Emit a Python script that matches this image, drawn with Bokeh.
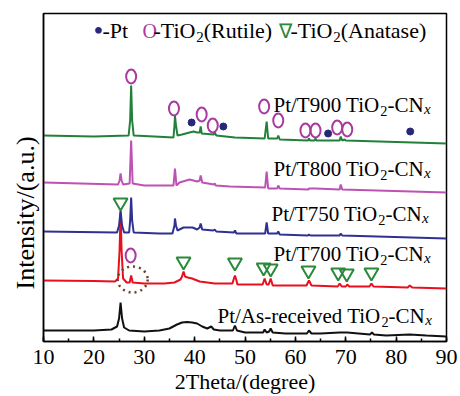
from bokeh.plotting import figure
from bokeh.models import Range1d, SingleIntervalTicker, FixedTicker, Label, Title
from bokeh.embed import file_html
from bokeh.resources import INLINE

# ---------------- data (2Theta in degree, intensity in a.u. incl. stacking offset) ----------------
asr_x = [10, 15, 20, 23.5, 24.6, 25.0, 25.3, 25.6, 26.0, 27, 30, 33, 35, 36.5, 37.5, 38.5, 39.5, 40.5,
         41.5, 42.5, 43.3, 43.8, 45, 47.6, 48.0, 48.4, 50, 53.6, 53.9, 54.3, 54.8, 55.1, 55.5, 58,
         62.3, 62.7, 63.2, 65, 68.8, 70.3, 74.8, 75.2, 75.6, 78, 82.7, 86, 90]
asr_y = [10, 10, 10, 11, 14, 22, 38, 22, 13, 10, 9, 10, 12, 16, 18, 18.5, 18, 17,
         14, 12, 14, 11, 10, 10, 15, 10, 8, 8, 11, 8, 9, 12, 8, 7,
         7, 10, 7, 7, 8, 8, 6, 8, 6, 5, 6, 5, 4]

t700_x = [10, 20, 24.2, 24.8, 25.1, 25.3, 25.5, 25.8, 26.5, 27.1, 27.4, 27.7, 30, 34, 36, 37.2, 37.5,
          37.8, 38.1, 38.6, 39.5, 41, 44, 47.5, 47.8, 48.0, 48.2, 48.5, 53.5, 53.9, 54.3, 54.7, 55.1,
          55.5, 62.2, 62.7, 63.2, 68.4, 68.8, 69.2, 70.0, 70.3, 70.7, 74.7, 75.1, 75.5, 82.3, 82.7,
          83.2, 90]
t700_y = [60, 59.5, 59, 62, 90, 128, 90, 62, 58, 58, 65, 58, 57, 57, 58, 61, 64,
          69, 64, 63, 62, 59, 57, 57, 62, 65, 62, 56, 56, 62, 56, 56, 62,
          55, 55, 60, 55, 54, 57, 54, 54, 56, 54, 54, 57, 54, 53, 55,
          53, 52]

t750_x = [10, 24.6, 25.0, 25.3, 25.6, 26.0, 27.0, 27.2, 27.4, 27.6, 27.9, 33, 35.6, 36.0, 36.1, 36.3,
          36.6, 37.8, 38.6, 39.6, 40.5, 41.0, 41.2, 41.5, 43.7, 44.0, 44.3, 47.8, 48.0, 48.3, 54.0,
          54.3, 54.6, 56.4, 56.6, 56.9, 62.5, 62.7, 63.0, 68.8, 69.0, 69.3, 90]
t750_y = [109, 108, 115, 130, 115, 108, 108, 120, 143, 120, 108, 107, 107, 115, 122, 115,
          110, 113, 113, 113, 111, 113, 117, 111, 110, 111, 109, 108, 110, 107, 107,
          118, 107, 107, 109, 106, 105, 106, 105, 105, 107, 105, 102]

t800_x = [10, 24.8, 25.1, 25.3, 25.5, 25.8, 27.1, 27.4, 27.7, 30, 35.8, 36.1, 36.4, 37, 39, 40.5,
          41.0, 41.2, 41.5, 43.8, 44.0, 44.2, 47, 54.0, 54.3, 54.6, 56.4, 56.6, 56.9, 62.6, 62.7,
          64.0, 68.8, 69.0, 69.3, 90]
t800_y = [158, 156, 160, 167, 160, 156, 157, 200, 157, 155, 155, 172, 155, 158, 161, 159,
          160, 165, 158, 156, 157, 155, 154, 153, 169, 152, 152, 155, 152, 151, 152,
          152, 151, 156, 151, 148]

t900_x = [10, 20, 26.9, 27.2, 27.4, 27.6, 27.9, 32, 35.8, 36.0, 36.1, 36.3, 36.6, 37.5, 39, 39.8,
          40.5, 41.0, 41.2, 41.4, 43.8, 44.0, 44.3, 48, 53.9, 54.3, 54.6, 56.4, 56.6, 56.9, 62.5,
          62.7, 62.9, 63.8, 64.0, 64.2, 68.8, 69.0, 69.3, 69.8, 70.0, 90]
t900_y = [205, 204, 205, 220, 255, 220, 205, 204, 203, 215, 225, 215, 205, 206, 208, 209,
          208, 208, 214, 207, 206, 208, 205, 203, 202, 219, 202, 202, 205, 201, 200,
          202, 200, 200, 202, 200, 200, 204, 200, 201, 200, 197]

# phase markers
rutile_x = [27.4, 35.9, 41.4, 43.6, 53.8, 56.6, 62.0, 64.0, 68.3, 70.3, 27.3]
rutile_y = [264, 232, 226, 215, 234, 220, 210, 210, 213, 211, 85]
pt_x = [39.4, 45.7, 66.5, 82.8]
pt_y = [218, 214, 207, 209]
anatase_x = [25.3, 37.8, 48.0, 53.7, 55.1, 62.6, 68.5, 70.2, 75.1]
anatase_y = [138, 79, 78, 73, 72, 70, 68, 67, 68]
highlight_x = [27.7]
highlight_y = [61]

sample_heads = ["Pt/T900 TiO", "Pt/T800 TiO", "Pt/T750 TiO", "Pt/T700 TiO", "Pt/As-received TiO"]
x_title = "2Theta/(degree)"
y_title = "Intensity/(a.u.)"

# ---------------- figure ----------------
p = figure(width=460, height=396, output_backend="svg", toolbar_location=None,
           x_range=Range1d(10, 90), y_range=Range1d(-1, 327),
           min_border_left=43, min_border_right=14, min_border_top=13, min_border_bottom=55)
p.background_fill_color = "white"
p.border_fill_color = "white"
p.xgrid.visible = False
p.ygrid.visible = False
p.outline_line_color = "black"
p.outline_line_width = 1.5
p.outline_line_alpha = 1.0

FONT = "Liberation Serif"
AXFONT = "Times New Roman"
xa = p.xaxis[0]
xa.ticker = SingleIntervalTicker(interval=10, num_minor_ticks=2)
xa.major_tick_in = 5
xa.major_tick_out = 0
xa.minor_tick_in = 3
xa.minor_tick_out = 0
xa.major_tick_line_color = "black"
xa.minor_tick_line_color = "black"
xa.major_tick_line_width = 1.5
xa.minor_tick_line_width = 1.5
xa.axis_line_width = 1.5
xa.major_label_text_font = AXFONT
xa.major_label_text_font_size = "22px"
xa.major_label_text_color = "black"
xa.major_label_standoff = 8
xa.axis_label = x_title
xa.axis_label_text_font = AXFONT
xa.axis_label_text_font_size = "22px"
xa.axis_label_text_font_style = "normal"
xa.axis_label_text_color = "black"
xa.axis_label_standoff = 2

ya = p.yaxis[0]
ya.ticker = FixedTicker(ticks=[])
ya.major_tick_in = 0
ya.major_tick_out = 0
ya.axis_line_width = 1.5

# y title, shifted along the side like in the reference
yt = Title(text=y_title, align="left", offset=52, text_font=AXFONT, text_font_size="26px",
           text_font_style="normal", text_color="black", standoff=8)
p.add_layout(yt, "left")

# curves
p.line(asr_x, asr_y, line_color="#111111", line_width=2)
p.line(t700_x, t700_y, line_color="#e8101e", line_width=2)
p.line(t750_x, t750_y, line_color="#2e3192", line_width=2)
p.line(t800_x, t800_y, line_color="#bd52b4", line_width=2)
p.line(t900_x, t900_y, line_color="#23803a", line_width=2)

# markers
MAG = "#a83aa0"
GRN = "#2a8a3a"
NAVY = "#28287a"
p.ellipse(x=rutile_x, y=rutile_y, width=10, height=14, width_units="screen", height_units="screen",
          fill_color=None, line_color=MAG, line_width=2)
p.scatter(x=pt_x, y=pt_y, marker="circle", size=7, fill_color=NAVY, line_color=NAVY)
p.scatter(x=anatase_x, y=anatase_y, marker="inverted_triangle", size=14,
          fill_color=None, line_color=GRN, line_width=2)
p.ellipse(x=highlight_x, y=highlight_y, width=30, height=26, width_units="screen", height_units="screen",
          fill_color=None, line_color="#6b4226", line_width=2.5, line_dash="2 4")

# ---------------- texts ----------------
W = {'P': .556, 't': .278, '/': .278, 'T': .611, '9': .5, '0': .5, '8': .5, '7': .5, '5': .5,
     ' ': .25, 'i': .278, 'O': .722, '-': .333, 'C': .667, 'N': .722, 'A': .722, 's': .389,
     'r': .333, 'e': .444, 'c': .444, 'v': .5, 'd': .5, '(': .333, ')': .333, 'R': .667,
     'u': .5, 'l': .278, 'a': .444, 'n': .5, '2': .5, 'x': .5}
PXD = 403 / 80.0


def tw(s, size):
    return sum(W.get(c, .5) for c in s) * size


def add_text(px, py, text, size, color="black", style="normal"):
    p.add_layout(Label(x=10 + (px - 43) / PXD, y=340 - py, text=text, text_font=FONT,
                       text_font_size=f"{size:.1f}px", text_color=color, text_font_style=style,
                       text_align="left", text_baseline="middle"))


def add_sample(px, py, head, size=21):
    add_text(px, py, head, size)
    px += tw(head, size)
    s2 = size * 0.68
    add_text(px, py + 6, "2", s2)
    px += 0.5 * s2
    add_text(px, py, "-CN", size)
    px += tw("-CN", size)
    add_text(px + 0.5, py + 4, "x", size * 0.72, style="italic")


starts = [273, 273, 271, 273, 217]
centers = [104, 168, 213, 253, 315]
for h, sx, cy in zip(sample_heads, starts, centers):
    add_sample(sx, cy, h)

# legend line
LS = 22
CY = 30
add_text(93, CY, "•", 28, NAVY)
add_text(102, CY, "-Pt", LS)
add_text(142, CY, "O", 20, MAG)
px = 153
add_text(px, CY, "-TiO", LS)
px += tw("-TiO", LS)
add_text(px, CY + 6, "2", LS * 0.68)
px += 0.5 * LS * 0.68
add_text(px, CY, "(Rutile)", LS)
add_text(278, CY, "∇", 20, GRN)
px = 290
add_text(px, CY, "-TiO", LS)
px += tw("-TiO", LS)
add_text(px, CY + 6, "2", LS * 0.68)
px += 0.5 * LS * 0.68
add_text(px, CY, "(Anatase)", LS)

open("out.html", "w").write(file_html(p, INLINE))
